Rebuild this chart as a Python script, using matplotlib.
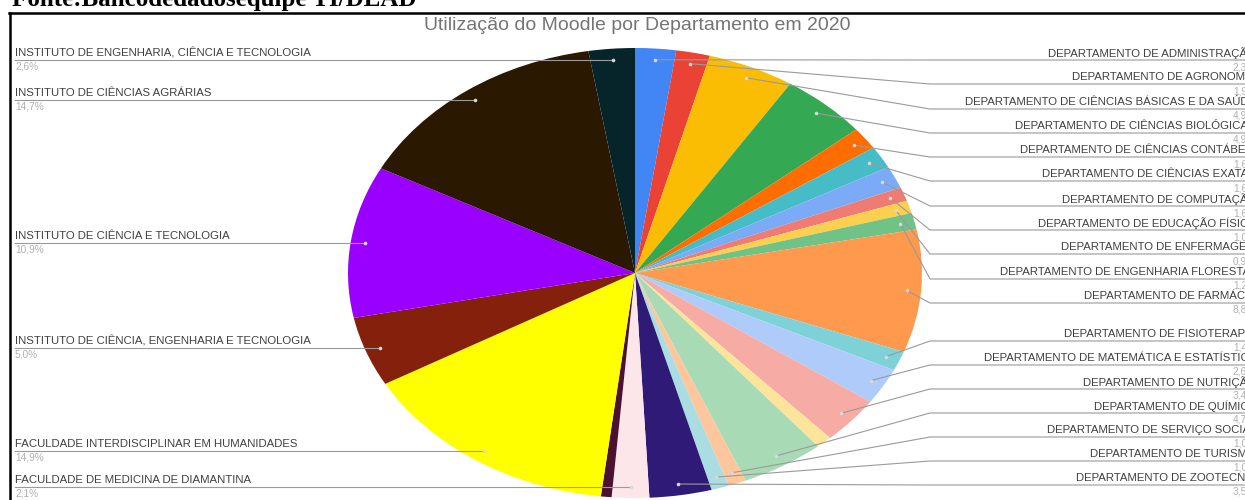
import matplotlib
matplotlib.use('Agg')
import matplotlib.pyplot as plt
import numpy as np

# fatias na ordem do grafico (sentido horario a partir do topo); '' = fatia sem rotulo
names = ['DEPARTAMENTO DE ADMINISTRAÇÃO', 'DEPARTAMENTO DE AGRONOMIA',
         'DEPARTAMENTO DE CIÊNCIAS BÁSICAS E DA SAÚDE', 'DEPARTAMENTO DE CIÊNCIAS BIOLÓGICAS',
         'DEPARTAMENTO DE CIÊNCIAS CONTÁBEIS', 'DEPARTAMENTO DE CIÊNCIAS EXATAS',
         'DEPARTAMENTO DE COMPUTAÇÃO', 'DEPARTAMENTO DE EDUCAÇÃO FÍSICA',
         'DEPARTAMENTO DE ENFERMAGEM', 'DEPARTAMENTO DE ENGENHARIA FLORESTAL',
         'DEPARTAMENTO DE FARMÁCIA', 'DEPARTAMENTO DE FISIOTERAPIA',
         'DEPARTAMENTO DE MATEMÁTICA E ESTATÍSTICA', 'DEPARTAMENTO DE NUTRIÇÃO', '',
         'DEPARTAMENTO DE QUÍMICA', 'DEPARTAMENTO DE SERVIÇO SOCIAL',
         'DEPARTAMENTO DE TURISMO', 'DEPARTAMENTO DE ZOOTECNIA',
         'FACULDADE DE MEDICINA DE DIAMANTINA', '',
         'FACULDADE INTERDISCIPLINAR EM HUMANIDADES',
         'INSTITUTO DE CIÊNCIA, ENGENHARIA E TECNOLOGIA',
         'INSTITUTO DE CIÊNCIA E TECNOLOGIA', 'INSTITUTO DE CIÊNCIAS AGRÁRIAS',
         'INSTITUTO DE ENGENHARIA, CIÊNCIA E TECNOLOGIA']
values = [2.3, 1.9, 4.9, 4.9, 1.6, 1.6, 1.6, 1.0, 0.9, 1.2, 8.8, 1.4, 2.6, 3.4, 0.9,
          4.7, 1.0, 1.0, 3.5, 2.1, 0.6, 14.9, 5.0, 10.9, 14.7, 2.6]
colors = ['#4285f4', '#ea4335', '#fbbc04', '#34a853', '#ff6d01', '#46bdc6', '#7baaf7',
          '#f07b72', '#fcd04f', '#71c287', '#ff994d', '#7ed1d7', '#aecbfa', '#f7aba5',
          '#fde49b', '#a8dab5', '#fdc69c', '#a9dde1', '#2f1a78', '#fde6ea', '#4c1130',
          '#ffff00', '#85200c', '#9900ff', '#2a1800', '#05252b']
title = 'Utilização do Moodle por Departamento em 2020'

# layout (pixels da imagem)
W, H = 1245, 500
CX, CY, RX, RY = 635, 273, 287, 225
right_text_y = [53, 77, 102, 126, 150, 174, 199, 223, 247, 272, 296,
                334, 358, 382, 406, 430, 454, 478]

def X(px):
    return (px - CX) / RX

def Y(py):
    return (CY - py) / RY

fig = plt.figure(figsize=(W / 100, H / 100), dpi=100)
ax = fig.add_axes([0, 0, 1, 1])
ax.pie(values, colors=colors, startangle=90, counterclock=False, radius=1,
       wedgeprops=dict(linewidth=0))
ax.set_aspect('auto')
ax.set_xlim(X(0), X(W))
ax.set_ylim(Y(H), Y(0))
ax.axis('off')

lab_font = 'Liberation Sans'
line_c = '#9a9a9a'
cum = np.cumsum([0] + values[:-1])
k = 0
for name, v, c0 in zip(names, values, cum):
    if not name:
        continue
    ang = np.deg2rad((c0 + v / 2) / 100 * 360)
    dx, dy = 0.95 * np.sin(ang), 0.95 * np.cos(ang)
    pct = ('%.1f%%' % v).replace('.', ',')
    if np.sin(ang) > 0:
        ty = right_text_y[k]
        k += 1
        ax.plot([dx, X(930), X(W + 5)], [dy, Y(ty + 7), Y(ty + 7)], color=line_c, lw=0.8, zorder=4)
        ax.text(X(1256), Y(ty), name, ha='right', va='center', fontsize=8.2,
                color='#404040', family=lab_font)
        ax.text(X(1256), Y(ty + 14), pct, ha='right', va='center', fontsize=7.3,
                color='#b0b0b0', family=lab_font)
    else:
        ax.plot([X(15), dx], [dy, dy], color=line_c, lw=0.8, zorder=4)
        ax.text(X(15), dy + 7 / RY, name, ha='left', va='center', fontsize=8.2,
                color='#404040', family=lab_font)
        ax.text(X(15), dy - 7 / RY, pct, ha='left', va='center', fontsize=7.3,
                color='#b0b0b0', family=lab_font)
    ax.plot(dx, dy, 'o', ms=2.6, color='#d8d8d8', mec='none', zorder=5)

ax.text(X(637), Y(25), title, ha='center', va='center', fontsize=14,
        color='#757575', family=lab_font)

# moldura da imagem original
ax.plot([X(9), X(W + 5)], [Y(12.5), Y(12.5)], color='black', lw=1.8)
ax.plot([X(9.5), X(9.5)], [Y(12.5), Y(H + 5)], color='black', lw=1.8)

fig.text(12 / W, 1 - 6 / H, 'Fonte:Bancodedadosequipe TI/DEAD', va='baseline', ha='left',
         family='Liberation Serif', weight='bold', fontsize=18)

fig.savefig('out.png', dpi=100)
